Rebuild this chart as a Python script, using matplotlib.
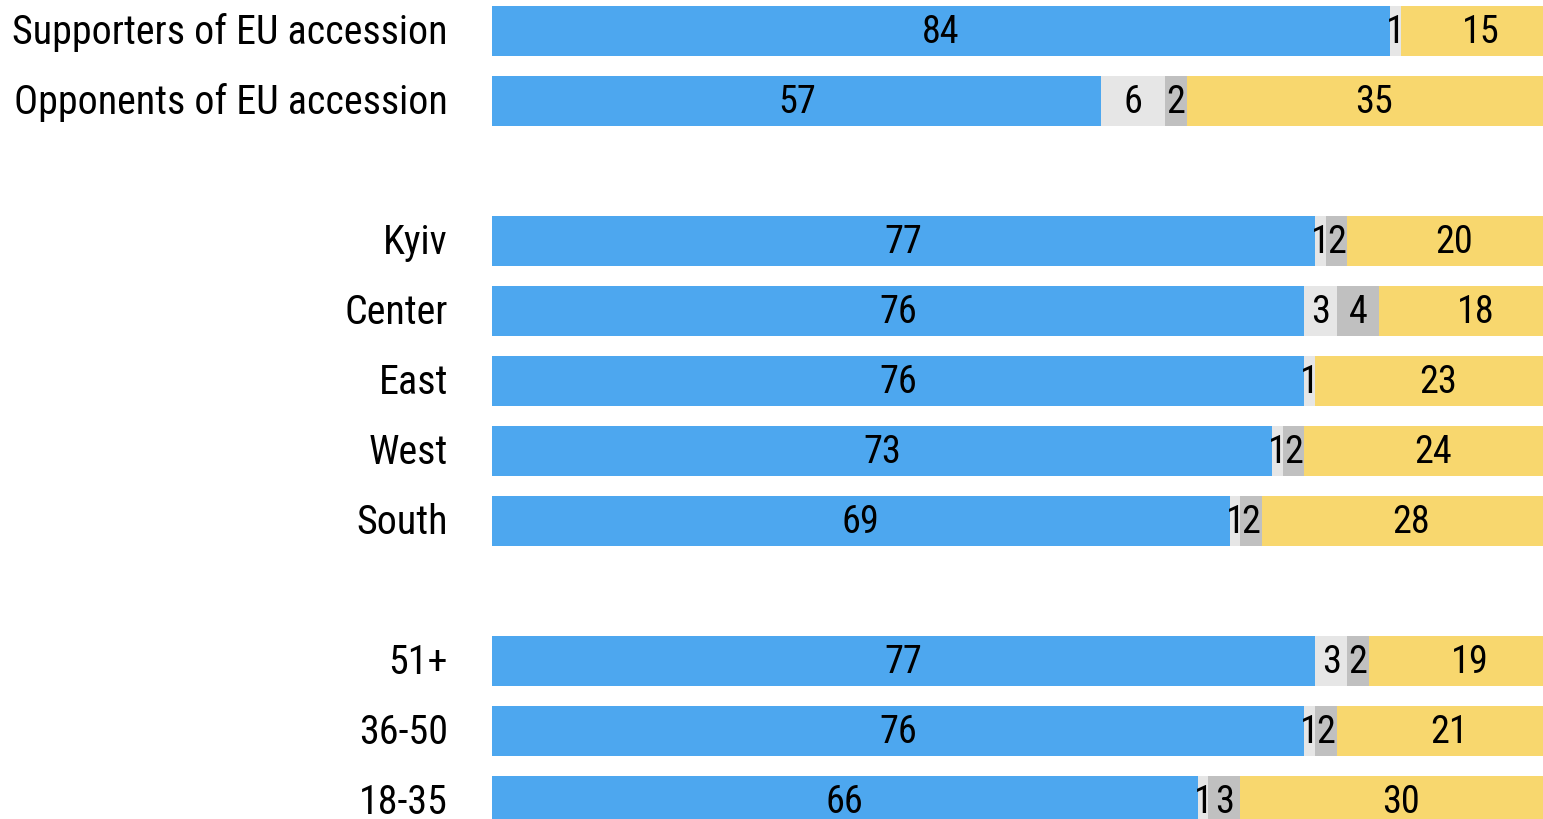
import matplotlib
matplotlib.use("Agg")
import matplotlib.pyplot as plt
from matplotlib import font_manager
from matplotlib.transforms import offset_copy

# ---- data ----
categories = ["Supporters of EU accession", "Opponents of EU accession",
              "Kyiv", "Center", "East", "West", "South",
              "51+", "36-50", "18-35"]
row_pos = [0, 1, 3, 4, 5, 6, 7, 9, 10, 11]
series_blue = [84, 57, 77, 76, 76, 73, 69, 77, 76, 66]
series_light = [1, 6, 1, 3, 1, 1, 1, 3, 1, 1]
series_dark = [0, 2, 2, 4, 0, 2, 2, 2, 2, 3]
series_yellow = [15, 35, 20, 18, 23, 24, 28, 19, 21, 30]

colors = ["#4DA7EF", "#E6E6E6", "#C0C0C0", "#F8D76E"]

names = {f.name for f in font_manager.fontManager.ttflist}
fam = [f for f in ["Roboto Condensed", "Liberation Sans Narrow", "Roboto", "DejaVu Sans"] if f in names]
plt.rcParams["font.family"] = fam

W, H = 1543, 819
fig = plt.figure(figsize=(W / 100, H / 100), dpi=100)
x0 = 492 / W
ax = fig.add_axes([x0, 0, 1 - x0, 1])

scale = 10.69  # px per unit
xmax = (W - 492) / scale
ax.set_xlim(0, xmax)
top = -31 / 70
bottom = (H - 31) / 70
ax.set_ylim(bottom, top)

val_tr = offset_copy(ax.transData, fig=fig, x=0, y=2.5, units="dots")
cat_tr = offset_copy(ax.transData, fig=fig, x=-44, y=3, units="dots")

all_series = [series_blue, series_light, series_dark, series_yellow]
left = [0] * len(categories)
for s, c in zip(all_series, colors):
    ax.barh(row_pos, s, left=left, height=50 / 70, color=c, edgecolor="none")
    for i, v in enumerate(s):
        if v > 0:
            ax.text(left[i] + v / 2, row_pos[i], str(v), ha="center", va="center_baseline",
                    fontsize=27.5, color="black", transform=val_tr)
    left = [l + v for l, v in zip(left, s)]

for name, y in zip(categories, row_pos):
    ax.text(0, y, name, ha="right", va="center_baseline", fontsize=28.8,
            color="black", transform=cat_tr, clip_on=False)

ax.set_yticks([])
ax.set_xticks([])
for sp in ax.spines.values():
    sp.set_visible(False)

fig.savefig("out.png", dpi=100)
